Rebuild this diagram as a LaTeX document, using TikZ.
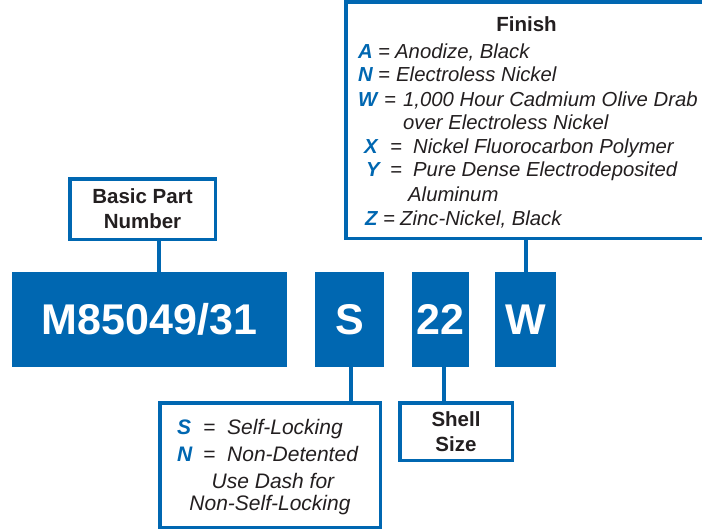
\documentclass[tikz,border=0pt]{standalone}
\usepackage{fontspec}
\setmainfont{Liberation Sans}
\usepackage{tikz}
\usetikzlibrary{calc,positioning}
\definecolor{partblue}{RGB}{0,103,177}
\definecolor{inkgray}{RGB}{35,31,32}
\tikzstyle{codebox} = [rectangle, fill=partblue, draw=none, text=white, font=\fontsize{43}{50}\selectfont\bfseries, minimum height=95pt, inner sep=0pt]
\tikzstyle{keybox} = [rectangle, draw=partblue, line width=3.5pt, fill=white, inner sep=0pt]
\tikzstyle{capt} = [text=inkgray, font=\fontsize{20.5}{25}\selectfont\bfseries, align=center]
\tikzstyle{itemtext} = [anchor=base west, inner sep=0pt, text=inkgray, font=\fontsize{20.3}{24}\selectfont\itshape]
\tikzstyle{keyletter} = [anchor=base west, inner sep=0pt, text=partblue, font=\fontsize{20.3}{24}\selectfont\bfseries\itshape]
\tikzstyle{lockitem} = [itemtext, font=\fontsize{21}{25}\selectfont\itshape]
\tikzstyle{lockletter} = [keyletter, font=\fontsize{21}{25}\selectfont\bfseries\itshape]
\tikzstyle{wire} = [draw=partblue, line width=4pt]

\begin{document}
\begin{tikzpicture}[x=1pt,y=-1pt]
        \useasboundingbox (0,0) rectangle (702,531);
        \clip (0,0) rectangle (702,531);

        % part number blocks
        \node[codebox, minimum width=275pt] (M85049) at (149.5,319.5) {M85049/31};
        \node[codebox, minimum width=69pt] (Lock) at (349.5,319.5) {S};
        \node[codebox, minimum width=57pt] (Shell) at (440.5,319.5) {22};
        \node[codebox, minimum width=61pt] (Finish) at (525.5,319.5) {W};

        % legend boxes
        \node[keybox, capt, minimum width=145.5pt, minimum height=60.5pt] (BasicPN) at (142.5,209) {Basic Part\\Number};
        \node[keybox, capt, minimum width=112.5pt, minimum height=57.5pt] (ShellKey) at (456,431.5) {Shell\\Size};
        \node[keybox, minimum width=220.5pt, minimum height=124.5pt] (LockKey) at (270,465) {};
        \node[keybox, minimum width=372.5pt, minimum height=236.5pt] (FinishKey) at (532,120) {};

        % finish codes
        \node[capt, anchor=base, inner sep=0pt] (FinishTitle) at (526.5,31.7) {Finish};
        \foreach \k/\y/\xk/\xe/\xt/\txt in {A/58.3/358/378/395/{Anodize, Black},
                N/81.7/358/378/396/{Electroless Nickel},
                W/106/358/384/403/{1,000 Hour Cadmium Olive Drab},
                X/153.3/364/390/413/{Nickel Fluorocarbon Polymer},
                Y/176.7/366/390/413/{Pure Dense Electrodeposited},
                Z/225/365/383/400/{Zinc-Nickel, Black}}
        {
            \node[keyletter] (key\k) at (\xk,\y) {\k};
            \node[itemtext] (eq\k) at (\xe,\y) {=};
            \node[itemtext] (txt\k) at (\xt,\y) {\txt};
        }
        \node[itemtext] (txtW2) at (403,129.3) {over Electroless Nickel};
        \node[itemtext] (txtY2) at (408,201.7) {Aluminum};

        % locking codes
        \foreach \k/\y/\txt in {S/434/Self-Locking, N/461/Non-Detented}
        {
            \node[lockletter] (lock\k) at (177,\y) {\k};
            \node[lockitem] (lockeq\k) at (203,\y) {=};
            \node[lockitem] (locktxt\k) at (227,\y) {\txt};
        }
        \node[lockitem, anchor=base] (dash1) at (273,488) {Use Dash for};
        \node[lockitem, anchor=base] (dash2) at (270,510) {Non-Self-Locking};

        % connectors
        \draw[wire] ([xshift=16.5pt]BasicPN.south) -- ([xshift=16.5pt]BasicPN.south |- M85049.north);
        \draw[wire] ([xshift=1.5pt]Lock.south) -- ([xshift=1.5pt]Lock.south |- LockKey.north);
        \draw[wire] ([xshift=3.5pt]Shell.south) -- ([xshift=3.5pt]Shell.south |- ShellKey.north);
        \draw[wire] (Finish.north) -- (Finish.north |- FinishKey.south);

\end{tikzpicture}
\end{document}
